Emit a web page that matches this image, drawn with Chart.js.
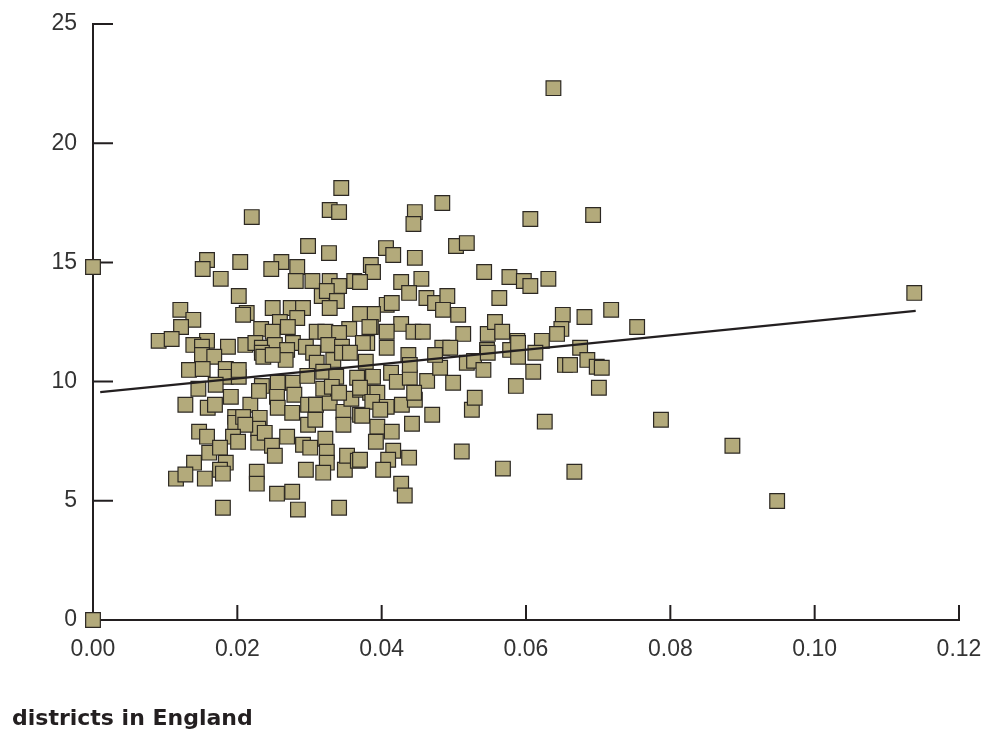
<!DOCTYPE html>
<html>
<head>
<meta charset="utf-8">
<title>districts in England</title>
<script src="https://cdn.jsdelivr.net/npm/chart.js@4.4.1/dist/chart.umd.min.js"></script>
<style>
  html, body { margin: 0; padding: 0; background: #fff; }
</style>
</head>
<body>
<canvas id="chart" width="994" height="733"></canvas>
<script>
// one point per district: x share, y rate
const xValues = [
  0.0000, 0.0000, 0.0638, 0.0344, 0.0220, 0.0328, 0.0341, 0.0446, 0.0484, 0.0444,
  0.0606, 0.0693, 0.0298, 0.0406, 0.0503, 0.0518, 0.0327, 0.0416, 0.0446, 0.0158,
  0.0204, 0.0261, 0.0283, 0.0247, 0.0152, 0.0385, 0.0388, 0.0542, 0.0577, 0.0631,
  0.0597, 0.0606, 0.0177, 0.0281, 0.0304, 0.0328, 0.0362, 0.0341, 0.0427, 0.0455,
  0.0370, 0.0202, 0.0317, 0.0324, 0.0338, 0.0438, 0.0462, 0.0474, 0.0491, 0.0563,
  0.0485, 0.0506, 0.0407, 0.0414, 0.0388, 0.0370, 0.0427, 0.0385, 0.0407, 0.0444,
  0.0457, 0.0651, 0.0649, 0.0643, 0.0681, 0.0718, 0.0754, 0.1138, 0.0513, 0.0547,
  0.0557, 0.0567, 0.0588, 0.0622, 0.0380, 0.0407, 0.0484, 0.0495, 0.0546, 0.0578,
  0.0675, 0.0121, 0.0139, 0.0122, 0.0213, 0.0208, 0.0249, 0.0274, 0.0291, 0.0328,
  0.0383, 0.0259, 0.0283, 0.0233, 0.0249, 0.0270, 0.0310, 0.0322, 0.0355, 0.0341,
  0.0091, 0.0109, 0.0158, 0.0187, 0.0211, 0.0225, 0.0277, 0.0295, 0.0326, 0.0345,
  0.0374, 0.0139, 0.0151, 0.0234, 0.0252, 0.0269, 0.0151, 0.0168, 0.0133, 0.0152,
  0.0184, 0.0184, 0.0202, 0.0202, 0.0234, 0.0236, 0.0267, 0.0249, 0.0305, 0.0310,
  0.0333, 0.0345, 0.0356, 0.0319, 0.0337, 0.0366, 0.0146, 0.0170, 0.0128, 0.0159,
  0.0169, 0.0191, 0.0197, 0.0197, 0.0218, 0.0234, 0.0230, 0.0256, 0.0255, 0.0256,
  0.0277, 0.0279, 0.0276, 0.0297, 0.0298, 0.0309, 0.0298, 0.0308, 0.0231, 0.0229,
  0.0208, 0.0211, 0.0328, 0.0347, 0.0358, 0.0370, 0.0370, 0.0384, 0.0319, 0.0331,
  0.0341, 0.0347, 0.0147, 0.0158, 0.0194, 0.0201, 0.0229, 0.0238, 0.0248, 0.0269,
  0.0291, 0.0301, 0.0322, 0.0324, 0.0161, 0.0176, 0.0184, 0.0140, 0.0176, 0.0180,
  0.0115, 0.0128, 0.0155, 0.0227, 0.0227, 0.0252, 0.0295, 0.0324, 0.0319, 0.0349,
  0.0352, 0.0367, 0.0255, 0.0276, 0.0180, 0.0284, 0.0341, 0.0437, 0.0378, 0.0388,
  0.0413, 0.0421, 0.0439, 0.0439, 0.0463, 0.0481, 0.0499, 0.0474, 0.0518, 0.0528,
  0.0541, 0.0547, 0.0589, 0.0589, 0.0613, 0.0610, 0.0586, 0.0654, 0.0661, 0.0685,
  0.0698, 0.0705, 0.0701, 0.0370, 0.0394, 0.0387, 0.0407, 0.0428, 0.0446, 0.0445,
  0.0373, 0.0398, 0.0394, 0.0414, 0.0416, 0.0392, 0.0442, 0.0470, 0.0525, 0.0529,
  0.0626, 0.0409, 0.0402, 0.0438, 0.0370, 0.0511, 0.0568, 0.0667, 0.0427, 0.0432,
  0.0787, 0.0886, 0.0948
];
const yValues = [
  14.81,  0.00, 22.31, 18.12, 16.90, 17.20, 17.11, 17.11, 17.49, 16.61,
  16.82, 16.99, 15.69, 15.60, 15.69, 15.81, 15.39, 15.31, 15.19, 15.10,
  15.02, 15.02, 14.81, 14.72, 14.72, 14.89, 14.60, 14.60, 14.39, 14.31,
  14.22, 14.01, 14.31, 14.22, 14.22, 14.22, 14.22, 14.01, 14.18, 14.31,
  14.18, 13.59, 13.59, 13.80, 13.38, 13.72, 13.51, 13.30, 13.59, 13.51,
  13.01, 12.80, 13.22, 13.30, 12.84, 12.84, 12.42, 12.29, 12.09, 12.09,
  12.09, 12.80, 12.21, 12.00, 12.71, 13.01, 12.29, 13.72, 12.00, 12.00,
  12.50, 12.09, 11.71, 11.71, 11.62, 11.42, 11.42, 11.42, 11.33, 11.33,
  11.42, 13.01, 12.59, 12.29, 12.88, 12.80, 13.09, 13.09, 13.09, 13.09,
  12.29, 12.50, 12.67, 12.21, 12.09, 12.29, 12.09, 12.09, 12.21, 12.04,
  11.71, 11.79, 11.71, 11.46, 11.54, 11.62, 11.62, 11.46, 11.54, 11.46,
  11.62, 11.54, 11.46, 11.42, 11.54, 11.33, 11.12, 11.04, 10.49, 10.53,
  10.53, 10.20, 10.20, 10.49, 11.21, 11.04, 10.91, 11.12, 11.21, 10.79,
  10.91, 11.21, 11.21, 10.41, 10.20, 10.16,  9.70,  9.87,  9.03,  8.90,
   9.03,  9.36,  8.52,  8.27,  9.03,  9.82,  9.61,  9.95,  9.36,  8.90,
   9.95,  9.45,  8.69, 10.24,  9.03,  9.03,  8.19,  8.40,  8.48,  8.02,
   8.52,  8.19,  9.11,  8.73,  9.28,  9.66,  8.61,  9.53,  9.70,  9.78,
   9.53,  8.19,  7.90,  7.69,  7.69,  7.48,  7.44,  7.85,  7.31,  7.69,
   7.35,  7.23,  7.60,  7.06,  7.02,  7.23,  6.60,  6.60,  6.30,  6.14,
   5.93,  6.10,  5.93,  6.22,  5.72,  6.89,  6.30,  6.60,  6.18,  6.30,
   6.89,  6.68,  5.30,  5.38,  4.71,  4.63,  4.71, 11.12, 10.83, 10.20,
  10.37,  9.99, 10.16, 10.70, 10.03, 10.58,  9.95, 11.12, 10.79, 10.87,
  10.49, 11.21, 11.04, 11.62, 11.21, 10.41,  9.82, 10.70, 10.70, 10.91,
  10.62, 10.58,  9.74,  9.74,  9.53,  9.15,  8.94,  9.03,  9.24,  9.53,
   8.57,  8.82,  8.11,  7.90,  7.10,  7.48,  8.23,  8.61,  8.82,  9.32,
   8.32,  6.72,  6.30,  6.81,  6.72,  7.07,  6.35,  6.22,  5.72,  5.22,
   8.40,  7.31,  4.99
];

// fitted trend line, start and end
const fitX = [0.001, 0.114];
const fitY = [9.56, 12.97];

const xTicks = [0, 0.02, 0.04, 0.06, 0.08, 0.10, 0.12];
const yTicks = [0, 5, 10, 15, 20, 25];
const titleText = 'districts in England';

const ink = '#231f20';
const labelColor = '#333333';
const pointFill = '#b3aa7b';
const labelFont = { family: '"Liberation Sans", Arial, sans-serif', size: 23 };

// tick marks pointing into the plot
const innerTicks = {
  id: 'innerTicks',
  beforeDatasetsDraw(chart) {
    const { ctx } = chart;
    const xs = chart.scales.x, ys = chart.scales.y;
    ctx.save();
    ctx.strokeStyle = ink;
    ctx.lineWidth = 2;
    ctx.beginPath();
    xs.ticks.forEach(t => {
      const px = xs.getPixelForValue(t.value);
      ctx.moveTo(px, ys.bottom);
      ctx.lineTo(px, ys.bottom - 15);
    });
    ys.ticks.forEach(t => {
      const py = ys.getPixelForValue(t.value);
      ctx.moveTo(xs.left, py);
      ctx.lineTo(xs.left + 20, py);
    });
    ctx.stroke();
    ctx.restore();
  }
};

const points = xValues.map((x, i) => ({ x: x, y: yValues[i] }));
const fitLine = fitX.map((x, i) => ({ x: x, y: fitY[i] }));

new Chart(document.getElementById('chart'), {
  type: 'scatter',
  data: {
    datasets: [
      {
        type: 'line',
        data: fitLine,
        borderColor: ink,
        borderWidth: 2.2,
        pointRadius: 0,
        fill: false,
        order: 0,
        clip: false
      },
      {
        data: points,
        pointStyle: 'rect',
        pointRadius: 10.4,
        pointHoverRadius: 10.4,
        backgroundColor: pointFill,
        borderColor: '#2c2823',
        borderWidth: 1.2,
        order: 1,
        clip: false
      }
    ]
  },
  options: {
    responsive: false,
    animation: false,
    layout: { padding: { left: 12, right: 35, top: 24, bottom: 1 } },
    plugins: {
      legend: { display: false },
      tooltip: { enabled: false },
      title: {
        display: true,
        text: titleText,
        position: 'bottom',
        align: 'start',
        color: ink,
        font: { family: '"DejaVu Sans", sans-serif', size: 22, weight: 'bold' },
        padding: { top: 0, bottom: 0 }
      }
    },
    scales: {
      x: {
        type: 'linear',
        min: 0,
        max: 0.12,
        afterBuildTicks: scale => { scale.ticks = xTicks.map(v => ({ value: v })); },
        afterFit: scale => { scale.height = 85.6; },
        ticks: {
          callback: v => v.toFixed(2),
          color: labelColor,
          font: labelFont,
          padding: 8,
          maxRotation: 0
        },
        grid: { display: false },
        border: { display: true, color: ink, width: 2 }
      },
      y: {
        type: 'linear',
        min: 0,
        max: 25,
        afterBuildTicks: scale => { scale.ticks = yTicks.map(v => ({ value: v })); },
        afterFit: scale => { scale.width = 81; },
        ticks: {
          color: labelColor,
          font: labelFont,
          padding: 8
        },
        grid: { display: false },
        border: { display: true, color: ink, width: 2 }
      }
    }
  },
  plugins: [innerTicks]
});
</script>
</body>
</html>
